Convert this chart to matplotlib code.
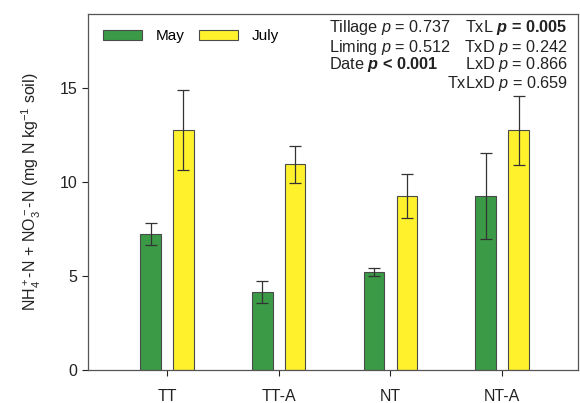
import numpy as np
import matplotlib
matplotlib.use("Agg")
import matplotlib.pyplot as plt

plt.rcParams["font.family"] = ["Liberation Sans", "DejaVu Sans"]
plt.rcParams["mathtext.fontset"] = "custom"
plt.rcParams["mathtext.rm"] = "Liberation Sans"
plt.rcParams["mathtext.it"] = "Liberation Sans:italic"
plt.rcParams["mathtext.bf"] = "Liberation Sans:bold"
plt.rcParams["mathtext.bfit"] = "Liberation Sans:italic:bold"

# treatments and mineral N means / SE for each sampling date
treatments = ["TT", "TT-A", "NT", "NT-A"]
may_mean = [7.23, 4.13, 5.20, 9.26]
may_se = [0.57, 0.57, 0.19, 2.28]
july_mean = [12.75, 10.93, 9.26, 12.73]
july_se = [2.12, 0.98, 1.17, 1.82]

green = "#3a9a46"
yellow = "#fff12c"
edge = "#4a4a4a"

fig = plt.figure(figsize=(5.8, 4.03), dpi=100)
ax = fig.add_axes([0.152, 0.082, 0.845, 0.883])

x = np.arange(len(treatments))
off = 0.147
w = 0.185
err_kw = dict(ecolor="#333333", elinewidth=0.9, capsize=4, capthick=0.9)
ax.bar(x - off, may_mean, w, yerr=may_se, color=green, edgecolor=edge,
       linewidth=0.8, label="May", error_kw=err_kw)
ax.bar(x + off, july_mean, w, yerr=july_se, color=yellow, edgecolor=edge,
       linewidth=0.8, label="July", error_kw=err_kw)

ax.set_xlim(-0.705, 3.68)
ax.set_ylim(0, 18.9)
ax.set_yticks([0, 5, 10, 15])
ax.set_xticks(x)
ax.set_xticklabels(treatments)
ax.tick_params(axis="both", labelsize=11.5, colors="#222222", length=4,
               width=0.8, direction="out")
ax.tick_params(axis="x", pad=10)
for s in ax.spines.values():
    s.set_color("#555555")
    s.set_linewidth(0.9)

ax.set_ylabel(r"NH$_4^+$-N + NO$_3^-$-N (mg N kg$^{-1}$ soil)",
              fontsize=11.5, color="#222222", labelpad=12)

ax.legend(loc="upper left", ncol=2, frameon=False, fontsize=11,
          handlelength=2.55, handleheight=0.65, columnspacing=1.0,
          handletextpad=0.85, bbox_to_anchor=(0.031, 0.958),
          borderaxespad=0, borderpad=0)

# statistics summary; significant terms in bold (regular words kept via mathrm)
fs = 11.7
tc = "#222222"
left_col = [(r"Tillage $\mathit{p}$ = 0.737", "normal"),
            (r"Liming $\mathit{p}$ = 0.512", "normal"),
            (r"$\mathrm{Date\ }\mathbfit{p}$ < 0.001", "bold")]
right_col = [(r"$\mathrm{TxL\ }\mathbfit{p}$ = 0.005", "bold"),
             (r"TxD $\mathit{p}$ = 0.242", "normal"),
             (r"LxD $\mathit{p}$ = 0.866", "normal"),
             (r"TxLxD $\mathit{p}$ = 0.659", "normal")]
ys = [0.963, 0.907, 0.857, 0.806]
for (s, fw), yv in zip(left_col, ys):
    ax.text(0.492, yv, s, transform=ax.transAxes, fontsize=fs, color=tc,
            fontweight=fw, ha="left", va="center")
for (s, fw), yv in zip(right_col, ys):
    ax.text(0.978, yv, s, transform=ax.transAxes, fontsize=fs, color=tc,
            fontweight=fw, ha="right", va="center")

fig.savefig("out.png", dpi=100)
